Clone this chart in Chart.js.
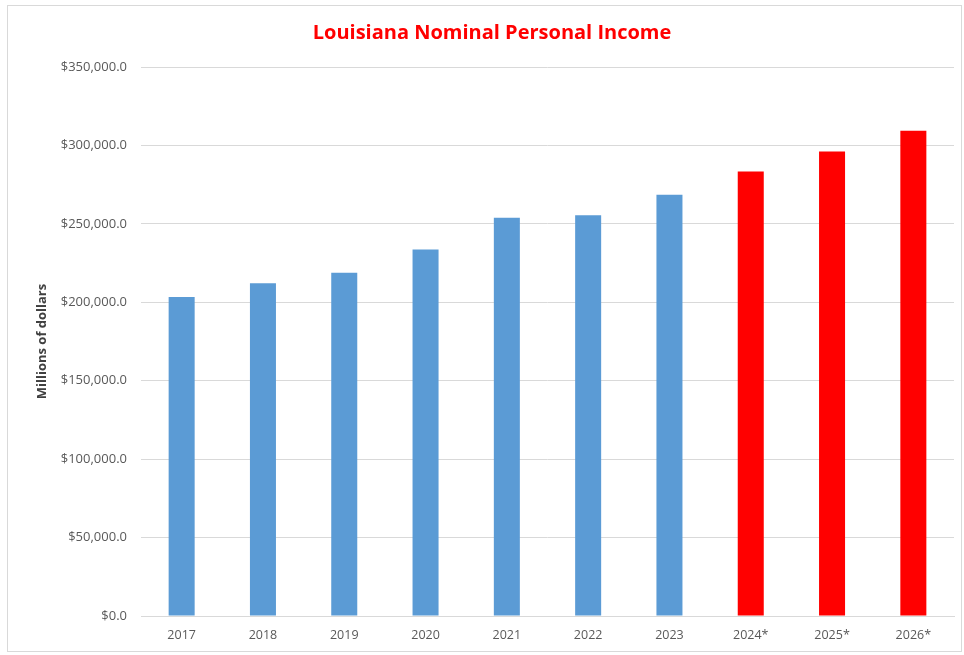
<!DOCTYPE html>
<html>
<head>
<meta charset="utf-8">
<title>Louisiana Nominal Personal Income</title>
<script src="https://cdn.jsdelivr.net/npm/chart.js@4.4.1/dist/chart.umd.min.js"></script>
<style>
    html, body { margin: 0; padding: 0; background: #ffffff; }
    #wrap { width: 964px; height: 655px; }
</style>
</head>
<body>
<div id="wrap"><canvas id="income-chart" width="964" height="655"></canvas></div>
<script>
// Values, millions of dollars
const years = ['2017', '2018', '2019', '2020', '2021', '2022', '2023', '2024*', '2025*', '2026*'];
const personalIncome = [203400, 212100, 218900, 233600, 253900, 255500, 268600, 283400, 296200, 309300];
const yTicks = [0, 50000, 100000, 150000, 200000, 250000, 300000, 350000];

const ACTUAL_COLOR = '#5B9BD5';
const FORECAST_COLOR = '#FF0000';
const FONT = "'Open Sans', 'Noto Sans', sans-serif";

// light grey frame round the whole chart
const framePlugin = {
    id: 'frame',
    beforeDraw(chart) {
        const ctx = chart.ctx;
        ctx.save();
        ctx.fillStyle = '#ffffff';
        ctx.fillRect(0, 0, chart.width, chart.height);
        ctx.strokeStyle = '#d9d9d9';
        ctx.lineWidth = 1;
        ctx.strokeRect(7.5, 5.5, 954, 646);
        ctx.restore();
    }
};

const ctx = document.getElementById('income-chart').getContext('2d');
new Chart(ctx, {
    type: 'bar',
    data: {
        labels: years,
        datasets: [{
            label: 'Personal income',
            data: personalIncome,
            backgroundColor: years.map(y => y.endsWith('*') ? FORECAST_COLOR : ACTUAL_COLOR),
            categoryPercentage: 1.0,
            barPercentage: 0.32
        }]
    },
    options: {
        responsive: false,
        animation: false,
        layout: { padding: { left: 30, right: 10, top: 0, bottom: 0 } },
        plugins: {
            legend: { display: false },
            tooltip: { enabled: false },
            title: {
                display: true,
                text: 'Louisiana Nominal Personal Income',
                color: '#FF0000',
                font: { family: FONT, size: 20, weight: 'bold' },
                padding: { top: 21, bottom: 22 }
            }
        },
        scales: {
            x: {
                grid: { display: false, drawTicks: false },
                border: { display: true, color: '#d9d9d9', width: 1 },
                ticks: {
                    color: '#595959',
                    font: { family: FONT, size: 12.5 },
                    padding: 12
                }
            },
            y: {
                min: 0,
                max: 350000,
                afterBuildTicks: (scale) => {
                    scale.ticks = yTicks.map(v => ({ value: v }));
                },
                afterFit: (scale) => {
                    scale.width = 111;
                },
                grid: { color: '#d9d9d9', drawTicks: false },
                border: { display: false },
                ticks: {
                    color: '#595959',
                    font: { family: FONT, size: 13 },
                    padding: 14,
                    callback: (value) => '$' + value.toLocaleString('en-US', { minimumFractionDigits: 1, maximumFractionDigits: 1 })
                },
                title: {
                    display: true,
                    text: 'Millions of dollars',
                    color: '#404040',
                    font: { family: FONT, size: 13, weight: 'bold' },
                    padding: 4
                }
            }
        }
    },
    plugins: [framePlugin]
});
</script>
</body>
</html>
